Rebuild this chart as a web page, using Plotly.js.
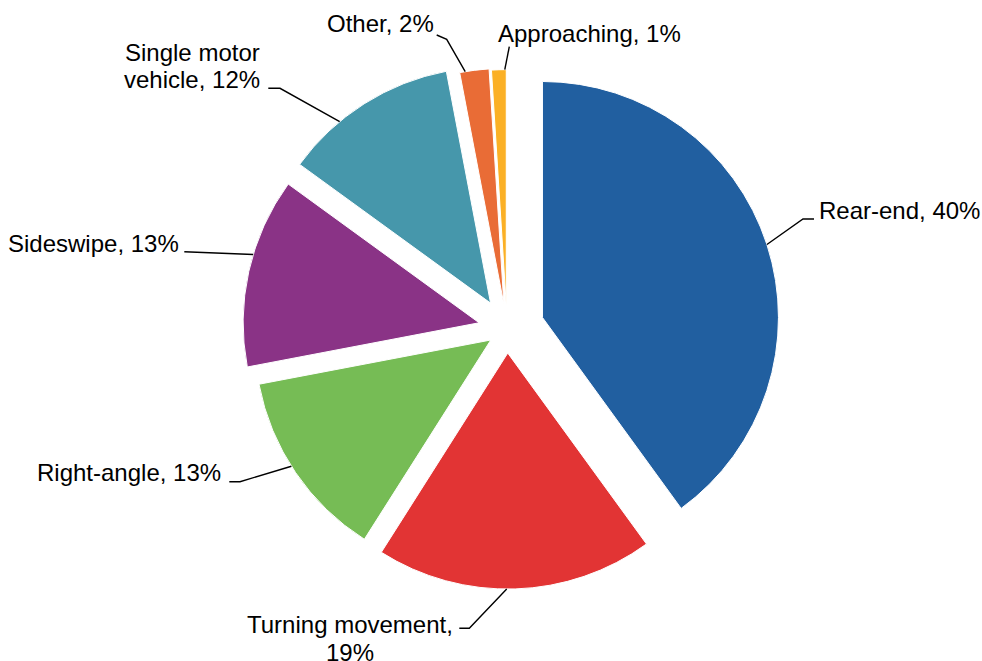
<!DOCTYPE html>
<html><head><meta charset="utf-8">
<script src="https://cdn.plot.ly/plotly-3.0.1.min.js"></script>
<style>html,body{margin:0;padding:0;background:#fff}#chart{width:982px;height:661px}</style>
</head><body><div id="chart"></div>
<script>
// ---- data ----
const categories = ["Rear-end", "Turning movement", "Right-angle", "Sideswipe", "Single motor vehicle", "Other", "Approaching"];
const shares = [40, 19, 13, 13, 12, 2, 1];
const labelTexts = ["Rear-end, 40%", "Turning movement,<br>19%", "Right-angle, 13%", "Sideswipe, 13%", "Single motor<br>vehicle, 12%", "Other, 2%", "Approaching, 1%"];

// ---- style ----
const colors = ["#215FA0", "#E23434", "#76BC55", "#8A3386", "#4697AB", "#E96C36", "#FBB025"];
const pulls = [0.158, 0.102, 0.083, 0.121, 0.130, 0.105, 0.099];
const W = 982, H = 661, CX = 507, CY = 329, R = 236;
const FONT = {family: "Liberation Sans, Arial, sans-serif", size: 24, color: "#000"};

// label placement (pixels): text anchor, leader elbow/end, where leader meets slice (fraction of slice arc)
const labelLayout = [
  {x: 818, y: 210.5, anchor: "left", gap: 27, frac: 0.50, leader: [[803, 219], [814, 219]]},
  {x: 349.5, y: 624, anchor: "center", gap: 28, frac: 0.53, leader: [[469.3, 628.3], [459.3, 628.3]]},
  {x: 222, y: 472.8, anchor: "right", gap: 27, frac: 0.54, leader: [[240, 481.7], [229.3, 481.7]]},
  {x: 180, y: 243.7, anchor: "right", gap: 27, frac: 0.59, leader: [[184.3, 251.7]]},
  {x: 192, y: 52.5, anchor: "center", gap: 26.5, frac: 0.33, leader: [[280, 88.3], [268.3, 88.3]]},
  {x: 326, y: 23.3, anchor: "left", gap: 27, frac: 0.19, leader: [[446.7, 39.3], [436.7, 35]]},
  {x: 496.7, y: 33.3, anchor: "left", gap: 27, frac: 0.9, leader: [[509.3, 46.7]]}
];

const maxPull = Math.max(...pulls);
const half = R * (1 + maxPull);
const px = x => x / W;
const py = y => 1 - y / H;

const total = shares.reduce((a, b) => a + b, 0);
const shapes = [];
const annotations = [];
let cum = 0;
shares.forEach((v, i) => {
  const a0 = cum / total * 360;
  cum += v;
  const a1 = cum / total * 360;
  const mid = (a0 + a1) / 2 * Math.PI / 180;
  const ax = CX + pulls[i] * R * Math.sin(mid);
  const ay = CY - pulls[i] * R * Math.cos(mid);
  const L = labelLayout[i];
  const phi = (a0 + L.frac * (a1 - a0)) * Math.PI / 180;
  const sx = ax + R * Math.sin(phi);
  const sy = ay - R * Math.cos(phi);
  let path = "M" + px(sx) + "," + py(sy);
  L.leader.forEach(p => { path += " L" + px(p[0]) + "," + py(p[1]); });
  shapes.push({type: "path", xref: "paper", yref: "paper", path: path, line: {color: "#000", width: 1.4}});
  const lines = labelTexts[i].split("<br>");
  lines.forEach((t, j) => {
    annotations.push({
      xref: "paper", yref: "paper", x: px(L.x), y: py(L.y + j * L.gap),
      xanchor: L.anchor, yanchor: "middle", showarrow: false, text: t, font: FONT,
      borderpad: 0
    });
  });
});

const trace = {
  type: "pie",
  labels: categories,
  values: shares,
  sort: false,
  direction: "clockwise",
  rotation: 0,
  pull: pulls,
  marker: {colors: colors, line: {color: "#ffffff", width: 1}},
  textinfo: "none",
  hoverinfo: "label+percent",
  showlegend: false,
  domain: {x: [(CX - half) / W, (CX + half) / W], y: [1 - (CY + half) / H, 1 - (CY - half) / H]}
};

const layout = {
  width: W, height: H,
  margin: {l: 0, r: 0, t: 0, b: 0},
  paper_bgcolor: "#ffffff",
  showlegend: false,
  shapes: shapes,
  annotations: annotations,
  font: FONT
};

Plotly.newPlot("chart", [trace], layout, {staticPlot: true, displayModeBar: false});
</script>
</body></html>
